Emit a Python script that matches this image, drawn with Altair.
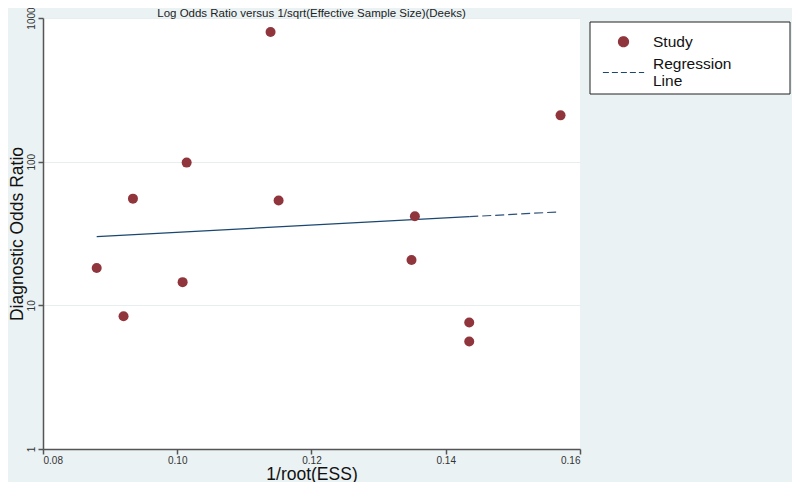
import altair as alt
import pandas as pd

# Study points: 1/root(ESS) and diagnostic odds ratio
ess_inv = [0.0880, 0.0920, 0.0934, 0.1014, 0.1008, 0.1139,
           0.1151, 0.1349, 0.1354, 0.1435, 0.1435, 0.1571]
dor = [18.2, 8.4, 55.3, 98.5, 14.5, 799,
       53.6, 20.7, 41.7, 7.6, 5.6, 210]

# Regression line (solid part, then dashed extension)
reg_solid_x = [0.0880, 0.1435]
reg_solid_y = [30.1, 41.4]
reg_dash_x = [0.1435, 0.1568]
reg_dash_y = [41.4, 44.7]

series_names = ["Study", "Regression Line"]
x_ticks = [0.08, 0.10, 0.12, 0.14, 0.16]
y_ticks = [1, 10, 100, 1000]
title_text = "Log Odds Ratio versus 1/sqrt(Effective Sample Size)(Deeks)"

MAROON = "#90353b"
NAVY = "#1a476f"
FONT = "Liberation Sans"

pts = pd.DataFrame({"x": ess_inv, "y": dor, "series": "Study"})
solid = pd.DataFrame({"x": reg_solid_x, "y": reg_solid_y, "series": "Regression Line"})
dash = pd.DataFrame({"x": reg_dash_x, "y": reg_dash_y, "series": "Regression Line"})
one = pd.DataFrame({"t": [title_text]})

xenc = alt.X("x:Q", scale=alt.Scale(domain=[0.08, 0.16], nice=False, zero=False),
             axis=alt.Axis(values=x_ticks, format=".2f", title="1/root(ESS)", grid=False,
                           labelFontSize=10, titleFontSize=17.5, titleFontWeight="normal",
                           titlePadding=0, tickSize=5, labelPadding=1))
yenc = alt.Y("y:Q", scale=alt.Scale(type="log", domain=[1, 1000], nice=False),
             axis=alt.Axis(values=y_ticks, format="d", title="Diagnostic Odds Ratio",
                           grid=True, gridColor="#e6eef0", gridWidth=1,
                           labelAngle=270, labelAlign="center", labelBaseline="bottom",
                           labelFontSize=10, titleFontSize=17.5, titleFontWeight="normal",
                           titlePadding=0, tickSize=5, labelPadding=2))

leg = alt.Legend(
    title=None, orient="none", legendX=547, legendY=4, padding=12,
    labelFontSize=15.5, labelFont=FONT, labelColor="#111",
    labelOffset=8, rowPadding=0, symbolStrokeWidth=1.2, symbolOpacity=1,
    labelBaseline={"expr": "datum.value == 'Regression Line' ? 'line-bottom' : 'middle'"},
    labelExpr="datum.label == 'Regression Line' ? ['Regression', 'Line'] : datum.label",
)
color = alt.Color("series:N", scale=alt.Scale(domain=series_names, range=[MAROON, NAVY]), legend=leg)
shape = alt.Shape("series:N", scale=alt.Scale(domain=series_names, range=["circle", "stroke"]), legend=leg)
size = alt.Size("series:N", scale=alt.Scale(domain=series_names, range=[100, 1700]), legend=leg)
sdash = alt.StrokeDash("series:N", scale=alt.Scale(domain=series_names, range=[[1, 0], [6, 3]]), legend=leg)

# legend frame (white box with dark border, outside the plot area)
frame = alt.Chart(one).mark_rect(fill="white", stroke="#222", strokeWidth=1).encode(
    x=alt.value(547), x2=alt.value(747), y=alt.value(4), y2=alt.value(76))
title = alt.Chart(one).mark_text(font=FONT, fontSize=11.5, color="#222", align="center",
                                 baseline="alphabetic").encode(
    text="t:N", x=alt.value(268.5), y=alt.value(-1.5))

points = alt.Chart(pts).mark_point(filled=True, opacity=1).encode(
    x=xenc, y=yenc, color=color, shape=shape, size=size, strokeDash=sdash)
line1 = alt.Chart(solid).mark_line(strokeWidth=1.2).encode(x="x:Q", y="y:Q", color=color)
line2 = alt.Chart(dash).mark_line(strokeWidth=1.2, strokeDash=[9, 4], color="#2c5079").encode(
    x="x:Q", y="y:Q")

chart = alt.layer(frame, line2, line1, points, title).properties(
    width=537, height=431,
    autosize=alt.AutoSizeParams(type="none"),
    padding={"left": 35, "top": 10, "right": 212, "bottom": 33},
).configure(background="#eaf2f3", font=FONT).configure_view(
    fill="white", stroke=None
).configure_axis(
    domainColor="#555", domainWidth=1.5, tickColor="#555", tickWidth=1.5,
    labelColor="#333", titleColor="#111", labelFont=FONT, titleFont=FONT
)

chart.save("out.html", embed_options={"renderer": "svg", "actions": False})
